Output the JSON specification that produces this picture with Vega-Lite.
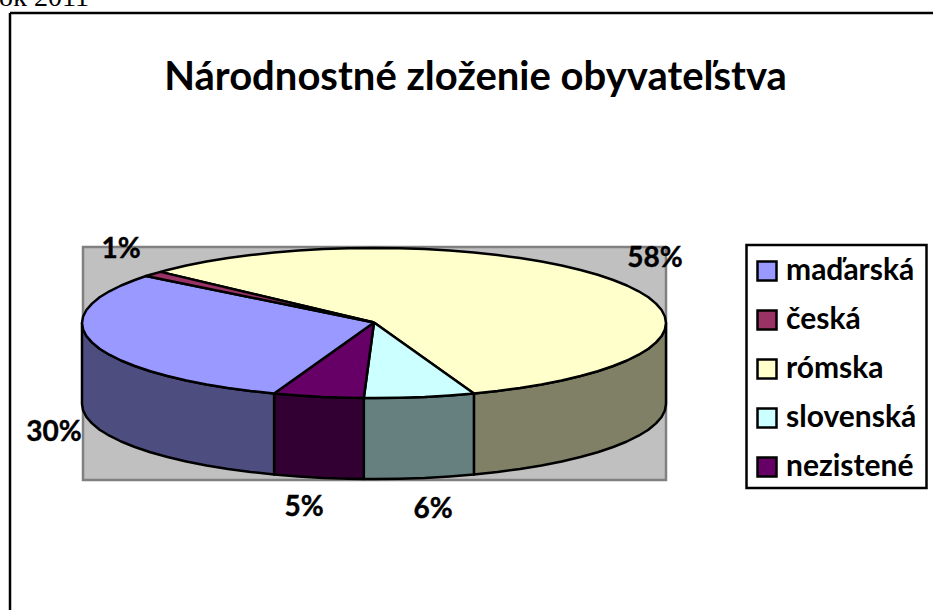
{"$schema":"https://vega.github.io/schema/vega-lite/v6.json","width":933,"height":610,"padding":0,"autosize":"none","background":"white","view":{"stroke":null},
"title":{"text":"Národnostné zloženie obyvateľstva","font":"Lato","fontSize":40,"fontWeight":"bold","color":"black","anchor":"middle","frame":"group","dx":9,"dy":114,"offset":0},
"encoding":{"x":{"field":"x","type":"quantitative","scale":{"domain":[0,933]},"axis":null},"y":{"field":"y","type":"quantitative","scale":{"domain":[0,610],"reverse":true},"axis":null}},
"layer":[
{"data":{"values":[{"x":83,"x2":666,"y":247,"y2":480}]},"mark":{"type":"rect","fill":"#C0C0C0","stroke":"#808080","strokeWidth":2.5},"encoding":{"x2":{"field":"x2"},"y2":{"field":"y2"}}},
{"data":{"values":[{"x":10,"y":13,"x2":933,"y2":13},{"x":10,"y":13,"x2":10,"y2":610}]},"mark":{"type":"rule","stroke":"black","strokeWidth":2.5},"encoding":{"x2":{"field":"x2"},"y2":{"field":"y2"}}},
{"data":{"values":[{"x":746.5,"x2":926.5,"y":245,"y2":488}]},"mark":{"type":"rect","fill":"white","stroke":"black","strokeWidth":2.5},"encoding":{"x2":{"field":"x2"},"y2":{"field":"y2"}}},
{"data":{"values":[
{"part":"rómska bok","x":666,"y":323},{"part":"rómska bok","x":664.9,"y":329.5},{"part":"rómska bok","x":661.6,"y":336},{"part":"rómska bok","x":656,"y":342.4},{"part":"rómska bok","x":648.4,"y":348.7},{"part":"rómska bok","x":638.6,"y":354.7},{"part":"rómska bok","x":626.9,"y":360.5},{"part":"rómska bok","x":613.2,"y":366},{"part":"rómska bok","x":597.7,"y":371.2},{"part":"rómska bok","x":580.5,"y":376},{"part":"rómska bok","x":561.7,"y":380.5},{"part":"rómska bok","x":541.5,"y":384.4},{"part":"rómska bok","x":520,"y":388},{"part":"rómska bok","x":497.4,"y":391},{"part":"rómska bok","x":473.9,"y":393.5},
{"part":"rómska bok","x":473.9,"y":474.5},{"part":"rómska bok","x":497.4,"y":472},{"part":"rómska bok","x":520,"y":469},{"part":"rómska bok","x":541.5,"y":465.4},{"part":"rómska bok","x":561.7,"y":461.5},{"part":"rómska bok","x":580.5,"y":457},{"part":"rómska bok","x":597.7,"y":452.2},{"part":"rómska bok","x":613.2,"y":447},{"part":"rómska bok","x":626.9,"y":441.5},{"part":"rómska bok","x":638.6,"y":435.7},{"part":"rómska bok","x":648.4,"y":429.7},{"part":"rómska bok","x":656,"y":423.4},{"part":"rómska bok","x":661.6,"y":417},{"part":"rómska bok","x":664.9,"y":410.5},{"part":"rómska bok","x":666,"y":404},{"part":"rómska bok","x":666,"y":323},
{"part":"slovenská bok","x":473.9,"y":393.5},{"part":"slovenská bok","x":449.6,"y":395.4},{"part":"slovenská bok","x":424.7,"y":396.9},{"part":"slovenská bok","x":399.4,"y":397.7},{"part":"slovenská bok","x":374,"y":398},{"part":"slovenská bok","x":363.8,"y":398},{"part":"slovenská bok","x":363.8,"y":479},{"part":"slovenská bok","x":374,"y":479},{"part":"slovenská bok","x":399.4,"y":478.7},{"part":"slovenská bok","x":424.7,"y":477.9},{"part":"slovenská bok","x":449.6,"y":476.4},{"part":"slovenská bok","x":473.9,"y":474.5},{"part":"slovenská bok","x":473.9,"y":393.5},
{"part":"nezistené bok","x":363.8,"y":398},{"part":"nezistené bok","x":348.6,"y":397.7},{"part":"nezistené bok","x":323.3,"y":396.9},{"part":"nezistené bok","x":298.4,"y":395.4},{"part":"nezistené bok","x":274.1,"y":393.5},{"part":"nezistené bok","x":274.1,"y":474.5},{"part":"nezistené bok","x":298.4,"y":476.4},{"part":"nezistené bok","x":323.3,"y":477.9},{"part":"nezistené bok","x":348.6,"y":478.7},{"part":"nezistené bok","x":363.8,"y":479},{"part":"nezistené bok","x":363.8,"y":398},
{"part":"maďarská bok","x":274.1,"y":393.5},{"part":"maďarská bok","x":250.6,"y":391},{"part":"maďarská bok","x":228,"y":388},{"part":"maďarská bok","x":206.5,"y":384.4},{"part":"maďarská bok","x":186.3,"y":380.5},{"part":"maďarská bok","x":167.5,"y":376},{"part":"maďarská bok","x":150.3,"y":371.2},{"part":"maďarská bok","x":134.8,"y":366},{"part":"maďarská bok","x":121.1,"y":360.5},{"part":"maďarská bok","x":109.4,"y":354.7},{"part":"maďarská bok","x":99.6,"y":348.7},{"part":"maďarská bok","x":92,"y":342.4},{"part":"maďarská bok","x":86.4,"y":336},{"part":"maďarská bok","x":83.1,"y":329.5},{"part":"maďarská bok","x":82,"y":323},
{"part":"maďarská bok","x":82,"y":404},{"part":"maďarská bok","x":83.1,"y":410.5},{"part":"maďarská bok","x":86.4,"y":417},{"part":"maďarská bok","x":92,"y":423.4},{"part":"maďarská bok","x":99.6,"y":429.7},{"part":"maďarská bok","x":109.4,"y":435.7},{"part":"maďarská bok","x":121.1,"y":441.5},{"part":"maďarská bok","x":134.8,"y":447},{"part":"maďarská bok","x":150.3,"y":452.2},{"part":"maďarská bok","x":167.5,"y":457},{"part":"maďarská bok","x":186.3,"y":461.5},{"part":"maďarská bok","x":206.5,"y":465.4},{"part":"maďarská bok","x":228,"y":469},{"part":"maďarská bok","x":250.6,"y":472},{"part":"maďarská bok","x":274.1,"y":474.5},{"part":"maďarská bok","x":274.1,"y":393.5},
{"part":"rómska","x":374,"y":322.5},{"part":"rómska","x":160.5,"y":271.9},{"part":"rómska","x":167.5,"y":270},{"part":"rómska","x":186.3,"y":265.5},{"part":"rómska","x":206.5,"y":261.6},{"part":"rómska","x":228,"y":258},{"part":"rómska","x":250.6,"y":255},{"part":"rómska","x":274.1,"y":252.5},{"part":"rómska","x":298.4,"y":250.6},{"part":"rómska","x":323.3,"y":249.1},{"part":"rómska","x":348.6,"y":248.3},{"part":"rómska","x":374,"y":248},{"part":"rómska","x":399.4,"y":248.3},{"part":"rómska","x":424.7,"y":249.1},{"part":"rómska","x":449.6,"y":250.6},{"part":"rómska","x":473.9,"y":252.5},{"part":"rómska","x":497.4,"y":255},{"part":"rómska","x":520,"y":258},{"part":"rómska","x":541.5,"y":261.6},{"part":"rómska","x":561.7,"y":265.5},{"part":"rómska","x":580.5,"y":270},{"part":"rómska","x":597.7,"y":274.8},{"part":"rómska","x":613.2,"y":280},{"part":"rómska","x":626.9,"y":285.5},{"part":"rómska","x":638.6,"y":291.3},{"part":"rómska","x":648.4,"y":297.3},{"part":"rómska","x":656,"y":303.6},{"part":"rómska","x":661.6,"y":310},{"part":"rómska","x":664.9,"y":316.5},{"part":"rómska","x":666,"y":323},{"part":"rómska","x":664.9,"y":329.5},{"part":"rómska","x":661.6,"y":336},{"part":"rómska","x":656,"y":342.4},{"part":"rómska","x":648.4,"y":348.7},{"part":"rómska","x":638.6,"y":354.7},{"part":"rómska","x":626.9,"y":360.5},{"part":"rómska","x":613.2,"y":366},{"part":"rómska","x":597.7,"y":371.2},{"part":"rómska","x":580.5,"y":376},{"part":"rómska","x":561.7,"y":380.5},{"part":"rómska","x":541.5,"y":384.4},{"part":"rómska","x":520,"y":388},{"part":"rómska","x":497.4,"y":391},{"part":"rómska","x":473.9,"y":393.5},{"part":"rómska","x":374,"y":322.5},
{"part":"slovenská","x":374,"y":322.5},{"part":"slovenská","x":473.9,"y":393.5},{"part":"slovenská","x":449.6,"y":395.4},{"part":"slovenská","x":424.7,"y":396.9},{"part":"slovenská","x":399.4,"y":397.7},{"part":"slovenská","x":374,"y":398},{"part":"slovenská","x":363.8,"y":398},{"part":"slovenská","x":374,"y":322.5},
{"part":"nezistené","x":374,"y":322.5},{"part":"nezistené","x":363.8,"y":398},{"part":"nezistené","x":348.6,"y":397.7},{"part":"nezistené","x":323.3,"y":396.9},{"part":"nezistené","x":298.4,"y":395.4},{"part":"nezistené","x":274.1,"y":393.5},{"part":"nezistené","x":374,"y":322.5},
{"part":"maďarská","x":374,"y":322.5},{"part":"maďarská","x":274.1,"y":393.5},{"part":"maďarská","x":250.6,"y":391},{"part":"maďarská","x":228,"y":388},{"part":"maďarská","x":206.5,"y":384.4},{"part":"maďarská","x":186.3,"y":380.5},{"part":"maďarská","x":167.5,"y":376},{"part":"maďarská","x":150.3,"y":371.2},{"part":"maďarská","x":134.8,"y":366},{"part":"maďarská","x":121.1,"y":360.5},{"part":"maďarská","x":109.4,"y":354.7},{"part":"maďarská","x":99.6,"y":348.7},{"part":"maďarská","x":92,"y":342.4},{"part":"maďarská","x":86.4,"y":336},{"part":"maďarská","x":83.1,"y":329.5},{"part":"maďarská","x":82,"y":323},{"part":"maďarská","x":83.1,"y":316.5},{"part":"maďarská","x":86.4,"y":310},{"part":"maďarská","x":92,"y":303.6},{"part":"maďarská","x":99.6,"y":297.3},{"part":"maďarská","x":109.4,"y":291.3},{"part":"maďarská","x":121.1,"y":285.5},{"part":"maďarská","x":134.8,"y":280},{"part":"maďarská","x":146,"y":276},{"part":"maďarská","x":374,"y":322.5},
{"part":"česká","x":374,"y":322.5},{"part":"česká","x":146,"y":276},{"part":"česká","x":150.3,"y":274.8},{"part":"česká","x":160.5,"y":271.9},{"part":"česká","x":374,"y":322.5}
]},
"mark":{"type":"line","stroke":"black","strokeWidth":2.5,"strokeJoin":"round"},
"encoding":{"order":{"value":null},"detail":{"field":"part"},"fill":{"field":"part","type":"nominal","scale":{"domain":["maďarská","česká","rómska","slovenská","nezistené","maďarská bok","rómska bok","slovenská bok","nezistené bok"],"range":["#9999FF","#993366","#FFFFCC","#CCFFFF","#660066","#4D4D80","#808066","#668080","#330033"]},
"legend":{"values":["maďarská","česká","rómska","slovenská","nezistené"],"title":null,"orient":"none","legendX":752,"legendY":256,"padding":0,"zindex":1,"symbolType":"square","symbolSize":361,"symbolStrokeColor":"black","symbolStrokeWidth":2.5,"symbolOpacity":1,"labelFont":"Lato","labelFontWeight":"bold","labelFontSize":30,"labelColor":"black","labelOffset":4,"rowPadding":19,"labelLimit":200}}}},
{"data":{"values":[{"x":121,"y":250,"t":"1%"},{"x":655,"y":259,"t":"58%"},{"x":54,"y":433,"t":"30%"},{"x":304,"y":508,"t":"5%"},{"x":433,"y":510,"t":"6%"}]},"mark":{"type":"text","font":"Lato","fontWeight":"bold","fontSize":28,"color":"black","stroke":"black","strokeWidth":0.4,"align":"center","baseline":"middle"},"encoding":{"text":{"field":"t"}}},
{"data":{"values":[{"x":89,"y":6,"t":"rok 2011"}]},"mark":{"type":"text","font":"Liberation Serif","fontSize":28,"color":"black","align":"right","baseline":"alphabetic"},"encoding":{"text":{"field":"t"}}}
]}
